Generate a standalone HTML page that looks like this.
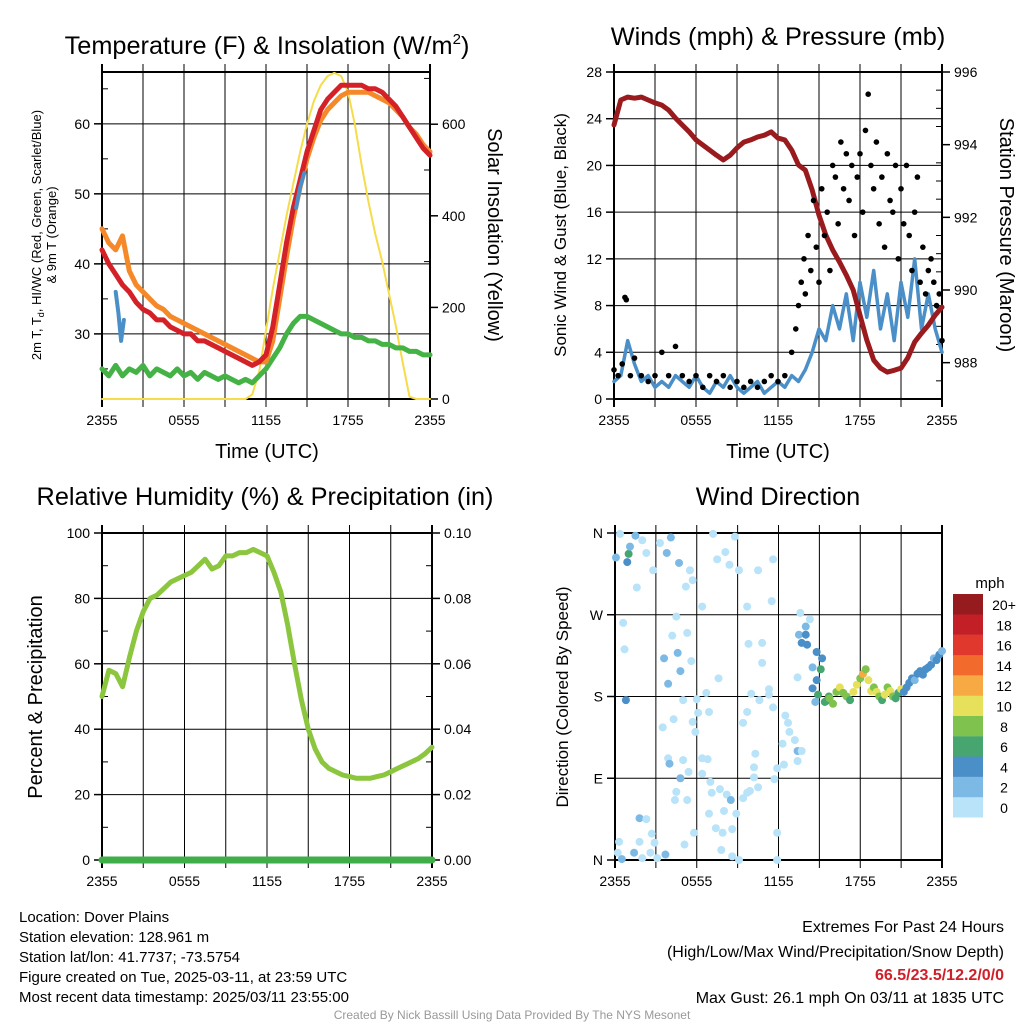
<!DOCTYPE html>
<html><head><meta charset="utf-8">
<style>
html,body{margin:0;padding:0;background:#fff;}
svg{display:block;font-family:"Liberation Sans",sans-serif;}
</style></head>
<body>
<svg id="c" width="1024" height="1024" viewBox="0 0 1024 1024">
<g id="static">
<text x="267" y="54" font-size="25.3" text-anchor="middle">Temperature (F) &amp; Insolation (W/m<tspan font-size="15" dy="-10">2</tspan><tspan dy="10">)</tspan></text>
<text x="778" y="45" font-size="25.3" text-anchor="middle">Winds (mph) &amp; Pressure (mb)</text>
<text x="265" y="505" font-size="25.3" text-anchor="middle">Relative Humidity (%) &amp; Precipitation (in)</text>
<text x="778" y="505" font-size="25.3" text-anchor="middle">Wind Direction</text>
<g font-size="13" text-anchor="middle">
<text transform="translate(41,235) rotate(-90)">2m T, T<tspan font-size="9" dy="3">d</tspan><tspan dy="-3">, HI/WC (Red, Green, Scarlet/Blue)</tspan></text>
<text transform="translate(56,235) rotate(-90)">&amp; 9m T (Orange)</text>
</g>
<text transform="translate(488,235) rotate(90)" font-size="20" text-anchor="middle">Solar Insolation (Yellow)</text>
<text transform="translate(566,235) rotate(-90)" font-size="17" text-anchor="middle">Sonic Wind &amp; Gust (Blue, Black)</text>
<text transform="translate(1000,235) rotate(90)" font-size="20" text-anchor="middle">Station Pressure (Maroon)</text>
<text transform="translate(42,697) rotate(-90)" font-size="20" text-anchor="middle">Percent &amp; Precipitation</text>
<text transform="translate(568,697) rotate(-90)" font-size="17" text-anchor="middle">Direction (Colored By Speed)</text>
<text x="267" y="458" font-size="20" text-anchor="middle">Time (UTC)</text>
<text x="778" y="458" font-size="20" text-anchor="middle">Time (UTC)</text>
<g font-size="15">
<text x="19" y="922">Location: Dover Plains</text>
<text x="19" y="942">Station elevation: 128.961 m</text>
<text x="19" y="962">Station lat/lon: 41.7737; -73.5754</text>
<text x="19" y="982">Figure created on Tue, 2025-03-11, at 23:59 UTC</text>
<text x="19" y="1002">Most recent data timestamp: 2025/03/11 23:55:00</text>
</g>
<g font-size="16" text-anchor="end">
<text x="1004" y="932">Extremes For Past 24 Hours</text>
<text x="1004" y="957">(High/Low/Max Wind/Precipitation/Snow Depth)</text>
<text x="1004" y="980" fill="#d0202a" font-weight="bold">66.5/23.5/12.2/0/0</text>
<text x="1004" y="1003">Max Gust: 26.1 mph On 03/11 at 1835 UTC</text>
</g>
<text x="512" y="1019" font-size="12" fill="#999" text-anchor="middle">Created By Nick Bassill Using Data Provided By The NYS Mesonet</text>
<text x="990" y="588" font-size="15" text-anchor="middle">mph</text>
</g>
<g id="dyn"></g>
</svg>
<script>
// shared time categories (hours since 2355 previous day), half-hourly
const tickHours = [0, 6, 12, 18, 24];
const tickLabels = ["2355", "0555", "1155", "1755", "2355"];
// temperature panel
const tempRed = [42,40,38.5,37,36,34.5,33.5,33,32,32,31,30.5,30,30,29,29,28.5,28,27.5,27,26.5,26,25.5,26,27,31,37,43,48,52,56,59,62,63.5,64.5,65.5,65.5,65.5,65.5,65,65,64.5,63.5,62.5,61,59.5,58,56.5,55.5];
const tempOrange = [45,43,42,44,39,37,36,35,34,33.5,32.5,32,31.5,31,30.5,30,29.5,29,28.5,28,27.5,27,26.5,26,26,29,35,41,46.5,51,55,58,60.5,62,63,64,64.5,64.5,64.5,64.5,64,63.5,63,62,61,59.5,58.5,57,56];
const dewGreen = [25,24,25.5,24,25,24.5,25.5,24,25,24.5,24,25,24,24.5,23.5,24.5,24,23.5,24,23.5,23,23.5,23,24,25,26.5,28,30,31.5,32.5,32.5,32,31.5,31,30.5,30,30,29.5,29.5,29,29,28.5,28.5,28,28,27.5,27.5,27,27];
const chillBlueT = [1.0,1.2,1.4,1.6];
const chillBlueV = [36,33,29,32];
const heatBlueT = [14.2,14.5,14.8];
const heatBlueV = [48,51,53];
const insolation = [0,0,0,0,0,0,0,0,0,0,0,0,0,0,0,0,0,0,0,0,0,0,10,60,150,240,320,400,470,540,600,650,685,705,712,705,670,600,510,430,360,300,230,160,80,5,0,0,0];
const tempTicks = [30,40,50,60];
const solarTicks = [0,200,400,600];
// wind panel
const windSpeed = [1.5,2,5,3,1.5,2,1,1.5,1,2,1.5,1,2,1,0.5,1.5,1,2,1,0.5,1,1.5,0.5,1,1.5,1,2,1.5,2.5,4,6,5,8,6,9,5,10,7,11,6,9,5,10,7,12,6,9,6,4];
const gustT = [0,0.3,0.6,0.8,0.9,1.2,1.5,2,2.5,3,3.5,4,4.5,5,5.5,6,6.5,7,7.5,8,8.5,9,9.5,10,10.5,11,11.5,12,12.5,13,13.3,13.5,13.7,13.9,14,14.2,14.4,14.6,14.8,15,15.2,15.4,15.6,15.8,16,16.2,16.4,16.6,16.8,17,17.2,17.4,17.6,17.8,18,18.2,18.4,18.6,18.8,19,19.2,19.4,19.6,19.8,20,20.2,20.4,20.6,20.8,21,21.2,21.4,21.6,21.8,22,22.2,22.4,22.6,22.8,23,23.2,23.4,23.6,23.8,24];
const gustV = [2.5,2,3,8.7,8.5,2,3.5,2,1.5,2,4,2,4.5,2,1.5,2,1,2,1.5,2,1,1.5,1,1.5,1,1.5,2,1.5,2,4,6,8,10,12,9,14,11,17,13,10,18,14,16,11,20,19,15,22,18,21,17,20,14,19,21,16,23,26.1,20,18,22,15,19,13,21,17,16,20,12,18,15,20,14,11,16,19,10,13,9,11,12,10,8,9,5];
const pressure = [994.54,995.23,995.31,995.28,995.31,995.23,995.15,995.09,994.95,994.73,994.54,994.35,994.13,993.99,993.85,993.71,993.58,993.71,993.91,994.07,994.13,994.21,994.26,994.35,994.18,994.13,993.85,993.44,993.30,992.75,992.06,991.51,991.10,990.77,990.41,990.0,989.31,988.62,988.07,987.85,987.74,987.79,987.85,988.13,988.57,988.81,989.03,989.31,989.53];
const windTicks = [0,4,8,12,16,20,24,28];
const presTicks = [988,990,992,994,996];
// humidity panel
const humidity = [50,58,57,53,62,70,76,80,81,83,85,86,87,88,90,92,89,90,93,93,94,94,95,94,93,88,82,72,60,49,40,34,30,28,27,26,25.5,25,25,25,25.5,26,27,28,29,30,31,32.5,34.5];
const precip = [0,0,0,0,0,0,0,0,0,0,0,0,0,0,0,0,0,0,0,0,0,0,0,0,0,0,0,0,0,0,0,0,0,0,0,0,0,0,0,0,0,0,0,0,0,0,0,0,0];
const rhTicks = [0,20,40,60,80,100];
const precipTicks = ["0.00","0.02","0.04","0.06","0.08","0.10"];
// direction panel
const dirT = [0.37,0.07,0.9,1.0,1.1,1.5,2,2.3,2.8,1.6,3.3,3.8,4.1,4.7,5.5,5.2,5.7,6.4,7.2,7.5,8.1,8.4,8.8,9.1,10.5,11.6,11.5,9.7,0.6,0.7,0.8,3.6,4.6,4.8,3.9,4.2,5.3,4.5,5.6,7.6,5,6,6.7,6.1,6.9,5.7,5.9,4.3,3.5,3.9,4.0,5.0,5.4,6.4,6.8,6.4,4.8,4.5,4.4,5.3,7.0,7.1,7.7,8.2,8.5,6.9,8.0,7.4,7.9,8.6,8.9,9.4,9.7,9.9,10.5,10.2,10.2,10.3,9.4,9.7,10.0,10.6,10.8,10.8,9.8,11.3,11.3,11.6,12.5,12.7,12.8,13.2,13.4,13.7,13.4,12.3,12.4,11.9,11.7,11.9,11.9,9.1,8.6,7.8,5.8,5.1,2.9,2.7,1.8,1.8,2.3,0.3,0.2,0.5,1.4,2.0,2.6,3.7,3.1,13.4,13.5,13.6,14.3,14.0,14,13.7,14.1,14.8,15.2,14.5,15.1,14.8,14.5,14.9,14.7,15.4,15.7,15.5,15.75,16,16.25,16.5,16.75,17,17.25,17.5,17.75,18,18.2,18.4,18.6,18.8,19,19.2,19.4,19.6,19.8,20,20.2,20.4,20.6,20.8,21,21.2,21.4,21.6,21.8,22,22.2,22.4,22.6,22.8,23,23.2,23.4,23.6,23.8,24];
const dirDeg = [359,333,328,337,345,357,352,338,319,300,349,338,355,327,319,301,308,279,359,331,339,325,356,319,319,331,285,279,261,232,176,222,228,208,194,247,250,268,219,200,176,177,184,162,163,152,141,155,146,112,106,110,97,112,111,95,90,75,66,66,86,74,78,72,66,51,54,35,30,34,51,68,74,76,80,91,102,117,151,163,183,176,217,239,238,188,182,168,159,151,141,132,120,120,109,128,105,101,89,30,0,0,4,11,30,17,19,29,20,46,45,20,8,1,8,2,8,6,2,201,248,272,265,257,248,239,237,229,222,212,210,198,189,182,174,174,180,175,178,172,185,190,184,180,176,185,193,200,205,210,198,186,190,185,180,176,182,190,186,180,178,184,188,185,190,195,200,198,205,208,204,210,212,215,222,220,226,230];
const dirSpeed = [1,3,4,6,3,3,1,1,1,1,1,3,3,3,1,1,1,1,1,1,1,1,1,1,1,1,1,1,1,1,4,3,3,3,3,1,1,1,1,1,1,1,1,1,1,1,1,1,1,1,3,1,1,1,1,1,3,1,1,1,1,1,1,1,3,1,1,1,1,1,1,1,1,1,1,1,1,1,1,1,1,1,1,1,1,1,1,1,1,1,1,1,3,1,1,1,1,1,1,1,1,1,1,1,1,1,1,1,1,3,1,1,1,3,3,1,1,3,1,1,3,1,1,3,4,4,4,4,5,3,6,4,4,6,3,6,7,7,8,8,9,10,8,9,7,10,11,8,13,9,11,10,8,11,9,7,10,9,11,8,7,6,10,4,5,4,4,3,5,4,4,5,4,4,3,5,4,3];
const speedBins = ["0","2","4","6","8","10","12","14","16","18","20+"];
const speedColors = ["#b9e3f8","#7db9e5","#4a8fc8","#47a670","#7fc24e","#e6e05a","#f7a943","#f26a2c","#e0382c","#c21f27","#961b1e"];
const dirTicks = ["N","E","S","W","N"];

const NS = "http://www.w3.org/2000/svg";
const root = document.getElementById("dyn");
function el(tag, attrs, parent) {
  const e = document.createElementNS(NS, tag);
  for (const k in attrs) e.setAttribute(k, attrs[k]);
  (parent || root).appendChild(e);
  return e;
}
function scale(d0, d1, r0, r1) { return v => r0 + (v - d0) * (r1 - r0) / (d1 - d0); }

const panels = {
  temp: {x0:102, x1:430, y0:72, y1:399},
  wind: {x0:614, x1:942, y0:72, y1:399},
  rh:   {x0:102, x1:432, y0:533, y1:860},
  dir:  {x0:615, x1:942, y0:533, y1:860}
};
function frame(p, name, hLines, xLabels) {
  const g = el("g", {});
  
  
  const X = scale(0, 24, p.x0, p.x1);
  for (let h = 3; h < 24; h += 3) {
    el("line", {x1:X(h), x2:X(h), y1:p.y0-8, y2:p.y1+8, stroke:"#000", "stroke-width":1}, g);
  }
  for (const y of hLines) el("line", {x1:p.x0, x2:p.x1, y1:y, y2:y, stroke:"#000", "stroke-width":1}, g);
  el("rect", {x:p.x0, y:p.y0, width:p.x1-p.x0, height:p.y1-p.y0, fill:"none", stroke:"#000", "stroke-width":2}, g);
  el("line", {x1:p.x0, x2:p.x0, y1:p.y0-8, y2:p.y1+8, stroke:"#000", "stroke-width":2}, g);
  el("line", {x1:p.x1, x2:p.x1, y1:p.y0-8, y2:p.y1+8, stroke:"#000", "stroke-width":2}, g);
  if (xLabels) {
    tickHours.forEach((h, i) => {
      const t = el("text", {x:X(h), y:p.y1+26, "font-size":14, "text-anchor":"middle"}, g);
      
      
      t.textContent = tickLabels[i];
    });
  }
  return X;
}
function yTicks(p, vals, Y, labels, side, name, minor) {
  const g = el("g", {});
  
  
  vals.forEach((v, i) => {
    const y = Y(v);
    const xa = side === "l" ? p.x0 : p.x1;
    const dx = side === "l" ? -8 : 8;
    el("line", {x1:xa, x2:xa+dx, y1:y, y2:y, stroke:"#000", "stroke-width":1.5}, g);
    const t = el("text", {x: side === "l" ? xa-12 : xa+12, y:y+5, "font-size":14, "text-anchor": side === "l" ? "end" : "start"}, g);
    t.textContent = labels[i];
  });
  if (minor) minor.forEach(v => {
    const y = Y(v);
    const xa = side === "l" ? p.x0 : p.x1;
    el("line", {x1:xa, x2:xa + (side === "l" ? 6 : -6), y1:y, y2:y, stroke:"#000", "stroke-width":1}, g);
  });
}
function line(vals, X, Y, color, w, name, times) {
  const pts = vals.map((v, i) => X(times ? times[i] : i * 24 / (vals.length - 1)).toFixed(1) + "," + Y(v).toFixed(1)).join(" ");
  const e = el("polyline", {points:pts, fill:"none", stroke:color, "stroke-width":w, "stroke-linejoin":"round", "stroke-linecap":"round"});
  
  
  return e;
}

// ---- Temperature panel ----
{
  const p = panels.temp;
  const Y = scale(20.7, 67.4, p.y1, p.y0);
  const YS = scale(0, 714, p.y1, p.y0);
  const X = frame(p, "temp", tempTicks.map(Y), true);
  yTicks(p, tempTicks, Y, tempTicks.map(String), "l", "temp-y-ticks", [25,35,45,55,65]);
  yTicks(p, solarTicks, YS, solarTicks.map(String), "r", "solar-y-ticks", [100,300,500,700]);
  line(insolation, X, YS, "#f6dc4a", 2, "insolation-line");
  line(dewGreen, X, Y, "#45b245", 5, "dewpoint-line");
  line(tempOrange, X, Y, "#f5892a", 5, "temp-9m-line");
  line(tempRed, X, Y, "#d42027", 5, "temp-2m-line");
  line(chillBlueV, X, Y, "#4a8fc8", 4, "wind-chill-line", chillBlueT);
  line(heatBlueV, X, Y, "#4a8fc8", 4, "heat-index-line", heatBlueT);
}
// ---- Wind panel ----
{
  const p = panels.wind;
  const Y = scale(0, 28, p.y1, p.y0);
  const YP = scale(987.0, 996, p.y1, p.y0);
  const X = frame(p, "wind", windTicks.map(Y), true);
  yTicks(p, windTicks, Y, windTicks.map(String), "l", "wind-y-ticks");
  yTicks(p, presTicks, YP, presTicks.map(String), "r", "pressure-y-ticks", [989,991,993,995,987.5,988.5,989.5,990.5,991.5,992.5,993.5,994.5,995.5]);
  line(windSpeed, X, Y, "#4a8fc8", 3.5, "sustained-wind-line");
  line(pressure, X, YP, "#9a1b1e", 5, "pressure-line");
  gustT.forEach((t, i) => {
    const c = el("circle", {cx:X(t), cy:Y(gustV[i]), r:2.8, fill:"#000"});
    
    
  });
}
// ---- RH panel ----
{
  const p = panels.rh;
  const Y = scale(0, 100, p.y1, p.y0);
  const YR = scale(0, 0.10, p.y1, p.y0);
  const X = frame(p, "rh", rhTicks.map(Y), true);
  yTicks(p, rhTicks, Y, rhTicks.map(String), "l", "rh-y-ticks", [10,30,50,70,90]);
  yTicks(p, rhTicks, Y, precipTicks, "r", "precip-y-ticks", [10,30,50,70,90]);
  line(humidity, X, Y, "#8cc63f", 5, "humidity-line");
  line(precip, X, YR, "#3fae49", 7, "precip-line");
}
// ---- Direction panel ----
{
  const p = panels.dir;
  const Y = scale(0, 360, p.y1, p.y0);
  const X = frame(p, "dir", [90,180,270].map(Y), true);
  yTicks(p, [0,90,180,270,360], Y, dirTicks, "l", "dir-y-ticks");
  dirT.forEach((t, i) => {
    const s = dirSpeed[i];
    const bi = Math.min(10, Math.floor(s / 2));
    const c = el("circle", {cx:X(t), cy:Y(dirDeg[i]), r:4, fill:speedColors[bi]});
    
    
  });
  const lg = el("g", {});
  
  
  speedColors.forEach((col, i) => {
    const y = 594 + (10 - i) * 20.3;
    el("rect", {x:953, y:y, width:30, height:20.5, fill:col}, lg);
    const t = el("text", {x:1004, y:y+16, "font-size":14, "text-anchor":"middle"}, lg);
    t.textContent = speedBins[i];
  });
}
</script>
</body></html>
